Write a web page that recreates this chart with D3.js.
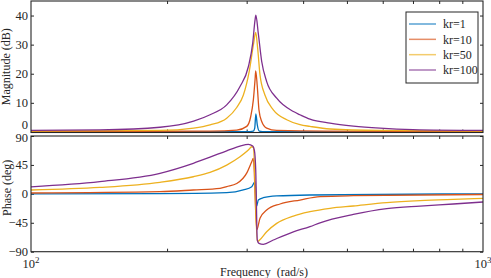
<!DOCTYPE html>
<html lang="en">
<head>
<meta charset="UTF-8" />
<title>Bode plot of resonant controller for several kr</title>
<script src="https://d3js.org/d3.v7.min.js"></script>
<style>
  body { margin: 0; background: #fff; }
  text { font-family: "Liberation Serif", "Times New Roman", serif; fill: #262626; }
  .tick line { stroke: #262626; }
  .domain { display: none; }
  .curve { fill: none; stroke-width: 1.3; }
</style>
</head>
<body>
<svg width="491" height="278" id="bode"></svg>
<script>
// series names + colours (MATLAB default order)
const krLabels = ["kr=1", "kr=10", "kr=50", "kr=100"];
const colors = ["#0072BD", "#D95319", "#EDB120", "#7E2F8E"];

// magnitude, [frequency rad/s, dB]
const magKr1 = [[100, 0.05], [300, 0.05], [310.4, 0.3], [312.6, 1.3], [314.4, 6.2],
  [316.7, 2.4], [319.9, 0.3], [330, 0.05], [1000, 0.05]];
const magKr10 = [[100, 0.2], [250, 0.3], [285.2, 0.6], [300.1, 1.9], [306.3, 5.3],
  [310.4, 11.0], [313.1, 17.9], [314.2, 21.0], [316.7, 15.6], [319.4, 7.6],
  [323.9, 3.6], [332.2, 1.3], [349.6, 0.5], [450, 0.25], [1000, 0.2]];
const magKr50 = [[100, 0.3], [193, 0.5], [229, 1.3], [249, 2.4], [271, 4.7],
  [285.2, 8.4], [294.9, 12.6], [304.1, 21.0], [310.4, 29.8], [314.2, 34.2],
  [317.4, 28.5], [321.1, 19.6], [329.4, 12.6], [343.6, 7.6], [368, 4.2],
  [393.6, 2.5], [414.2, 1.9], [458.7, 1.0], [591.7, 0.5], [1000, 0.3]];
const magKr100 = [[100, 0.5], [142, 0.7], [193, 1.6], [229, 3.7], [249, 5.9],
  [271, 9.3], [290, 15.6], [302.6, 22.4], [309.4, 30.5], [313.1, 38.5],
  [314.4, 40.1], [318.3, 33.9], [323.9, 24.2], [332.2, 17.3], [349.6, 11.6],
  [380.6, 7.0], [393.6, 5.9], [414.2, 4.4], [458.7, 3.0], [516.6, 2.0],
  [591.7, 1.3], [700, 0.8], [1000, 0.5]];

// phase, [frequency rad/s, deg]
const phaseKr1 = [[100, 0], [192.9, 0.3], [271, 1.8], [294.9, 6], [307.9, 11.2],
  [313.1, 18.9], [315.8, -18.9], [318.3, -9.6], [326.5, -6], [349.6, -3.3],
  [414.2, -1.8], [1000, 0]];
const phaseKr10 = [[100, 1.3], [192.9, 3.4], [228.6, 6], [261.9, 8.5], [271, 11.2],
  [285.2, 16], [300.5, 33], [307.9, 50], [310.4, 55.3], [315.8, -56],
  [321.1, -38], [332.2, -25.2], [355.6, -15.8], [393.6, -9.6], [435.9, -4.4],
  [516.6, -2.9], [1000, -1.0]];
const phaseKr50 = [[100, 6], [142, 10], [192.9, 17.9], [228.6, 26.6], [248.9, 33.4],
  [271, 44.8], [290, 57.7], [302.6, 68.1], [307.9, 73.3], [310.4, 72.3],
  [316.7, -74.4], [319.4, -72.8], [332.2, -58.9], [349.6, -45.9], [380.6, -34.5],
  [414.2, -27.8], [458.7, -22.5], [516.6, -18.9], [612.3, -13.8], [725.5, -10.6],
  [859.7, -8.5], [1000, -6.9]];
const phaseKr100 = [[100, 11], [142, 19], [192.9, 32], [228.6, 47.5], [248.9, 57],
  [271, 67], [290, 74.4], [302.6, 77.1], [309.4, 74.4], [312, 68], [314.2, 37],
  [316.7, -71.8], [319.4, -77], [326.5, -78.6], [343.6, -71.8], [380.6, -59],
  [414.2, -51], [435.9, -45], [516.6, -32], [612.3, -23], [725.5, -19],
  [859.7, -15.8], [1000, -12.7]];

const magTicks = [0, 10, 20, 30, 40];
const phaseTicks = [-90, -45, 0, 45, 90];
const minorFreq = [200, 300, 400, 500, 600, 700, 800, 900];
const decadeLabels = [[100, "2"], [1000, "3"]];

const svg = d3.select("#bode");

const x = d3.scaleLog().domain([100, 1000]).range([31, 483]);
const yMag = d3.scaleLinear().domain([-0.2, 45]).range([132.5, 1]);
const yPh = d3.scaleLinear().domain([-90, 90]).range([251.7, 136]);

function panel(id, y, series, ticks) {
  const [y0, y1] = [y.range()[1], y.range()[0]];
  const g = svg.append("g");

  svg.append("clipPath").attr("id", id)
    .append("rect")
    .attr("x", x.range()[0]).attr("y", y0)
    .attr("width", x.range()[1] - x.range()[0]).attr("height", y1 - y0);

  // ticks on all four sides, pointing in
  g.append("g").attr("class", "yleft").attr("transform", `translate(${x.range()[0]},0)`)
    .call(d3.axisLeft(y).tickValues(ticks).tickSize(-3).tickPadding(3))
    .selectAll("text").attr("font-size", 12.5);
  g.append("g").attr("transform", `translate(${x.range()[1]},0)`)
    .call(d3.axisRight(y).tickValues(ticks).tickSize(-3).tickFormat(""));
  g.append("g").attr("transform", `translate(0,${y0})`)
    .call(d3.axisTop(x).tickValues(minorFreq).tickSize(-3).tickFormat(""));
  g.append("g").attr("transform", `translate(0,${y1})`)
    .call(d3.axisBottom(x).tickValues(minorFreq).tickSize(-3).tickFormat(""));

  const line = d3.line()
    .x((d) => x(d[0]))
    .y((d) => y(d[1]))
    .curve(d3.curveMonotoneX);

  g.append("g").attr("clip-path", `url(#${id})`)
    .selectAll("path")
    .data(series)
    .join("path")
    .attr("class", "curve")
    .attr("stroke", (d, i) => colors[i])
    .attr("d", line);

  g.append("rect")
    .attr("x", x.range()[0]).attr("y", y0)
    .attr("width", x.range()[1] - x.range()[0]).attr("height", y1 - y0)
    .attr("fill", "none").attr("stroke", "#262626").attr("stroke-width", 1.1);
  return g;
}

const magPanel = panel("clipMag", yMag, [magKr1, magKr10, magKr50, magKr100], magTicks);
const phPanel = panel("clipPh", yPh, [phaseKr1, phaseKr10, phaseKr50, phaseKr100], phaseTicks);

// top "0" and "90" labels are squeezed apart a little, as in the original
magPanel.selectAll(".yleft .tick text").filter((d) => d === 0).attr("y", -7);
phPanel.selectAll(".yleft .tick text").filter((d) => d === 90).attr("y", 1.5);

// decade labels 10^2, 10^3
decadeLabels.forEach(([v, p]) => {
  const t = svg.append("text")
    .attr("x", x(v)).attr("y", 268)
    .attr("text-anchor", "middle")
    .attr("font-size", 12.5);
  t.append("tspan").text("10");
  t.append("tspan").attr("dy", -5).attr("font-size", 9).text(p);
});

// axis titles
svg.append("text")
  .attr("transform", `translate(10,${(yMag.range()[0] + yMag.range()[1]) / 2}) rotate(-90)`)
  .attr("text-anchor", "middle").attr("font-size", 12)
  .text("Magnitude (dB)");
svg.append("text")
  .attr("transform", `translate(11,${(yPh.range()[0] + yPh.range()[1]) / 2 - 6}) rotate(-90)`)
  .attr("text-anchor", "middle").attr("font-size", 12)
  .text("Phase (deg)");
svg.append("text")
  .attr("x", 264).attr("y", 275.5)
  .attr("text-anchor", "middle").attr("font-size", 12)
  .style("white-space", "pre")
  .text("Frequency  (rad/s)");

// legend
const legY = d3.scalePoint().domain(krLabels).range([24, 70]);
const leg = svg.append("g");
leg.append("rect")
  .attr("x", 406).attr("y", 12).attr("width", 72).attr("height", 71)
  .attr("fill", "#fff").attr("stroke", "#262626").attr("stroke-width", 1);
krLabels.forEach((k, i) => {
  leg.append("line")
    .attr("x1", 409).attr("x2", 436)
    .attr("y1", legY(k)).attr("y2", legY(k))
    .attr("stroke", colors[i]).attr("stroke-width", 1.5).attr("opacity", 0.65);
  leg.append("text")
    .attr("x", 443).attr("y", legY(k)).attr("dy", "0.35em")
    .attr("font-size", 12)
    .text(k);
});
</script>
</body>
</html>
